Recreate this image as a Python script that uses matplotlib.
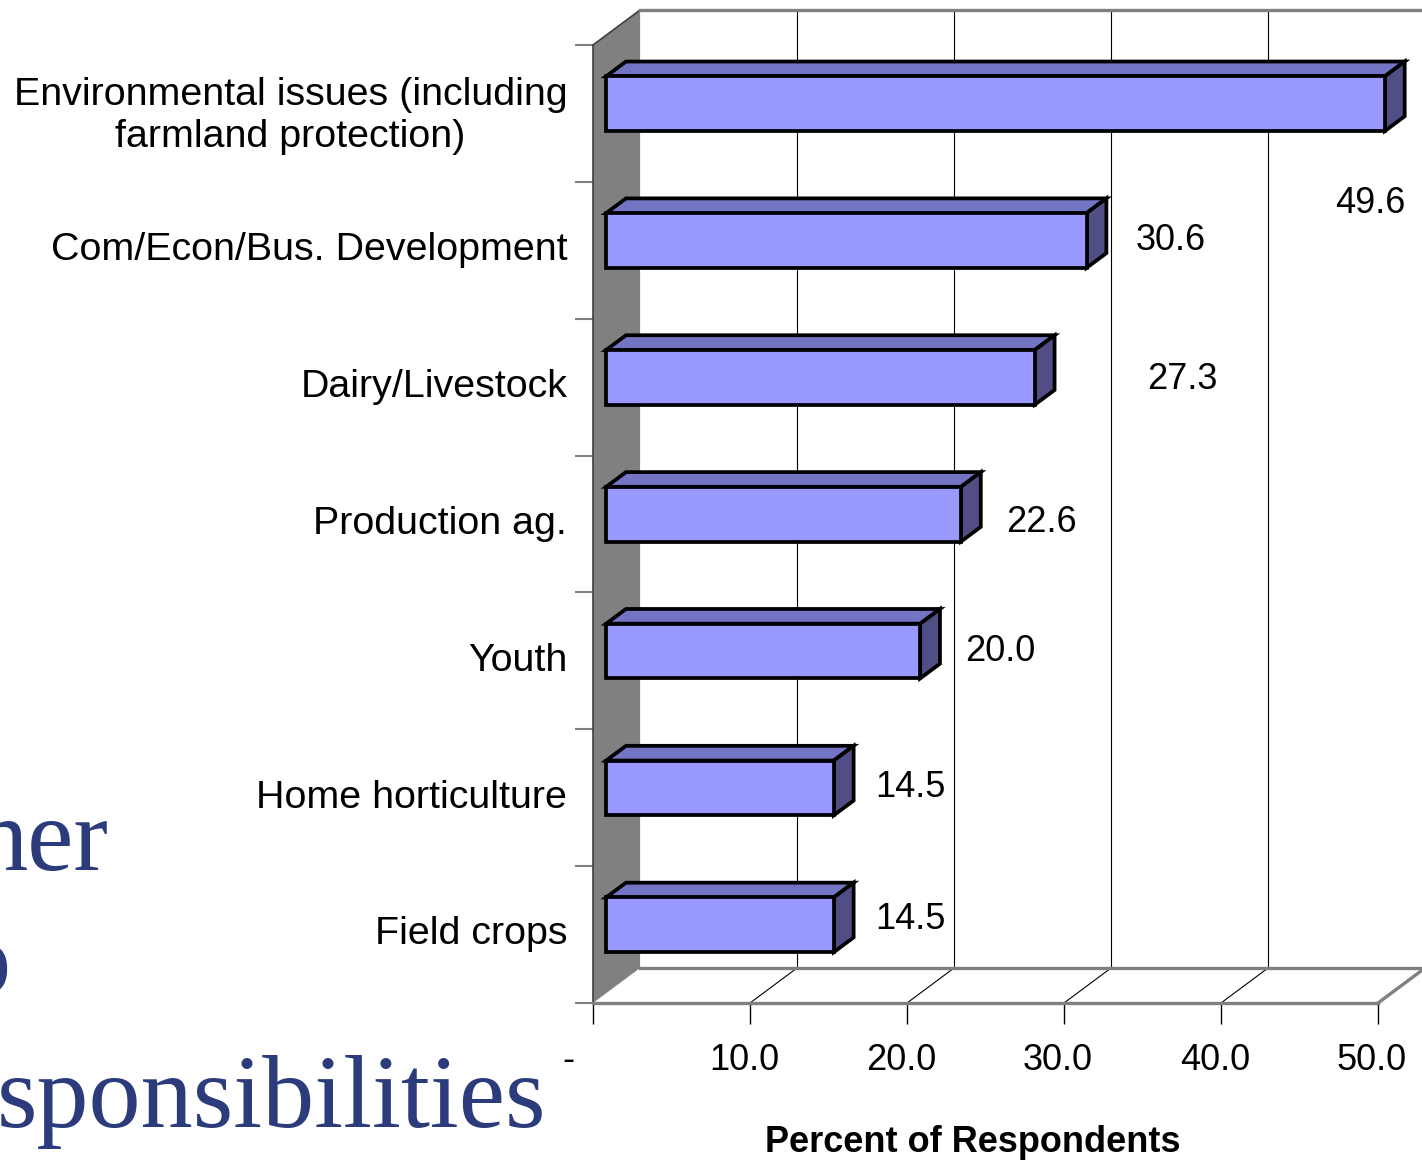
import numpy as np
import matplotlib
matplotlib.use('Agg')
import matplotlib.pyplot as plt
from matplotlib.patches import Polygon

plt.rcParams['font.family'] = ['Liberation Sans', 'DejaVu Sans']

# ── data ─────────────────────────────────────────────────────────────────────
categories = ['Environmental issues (including\nfarmland protection)',
              'Com/Econ/Bus. Development', 'Dairy/Livestock', 'Production ag.',
              'Youth', 'Home horticulture', 'Field crops']
values = [49.6, 30.6, 27.3, 22.6, 20.0, 14.5, 14.5]
xticks = [0, 10, 20, 30, 40, 50]
xticklabels = ['-', '10.0', '20.0', '30.0', '40.0', '50.0']
# value-label nudges in px (labels were hand placed on the slide)
lab_dx = [-15, 84, 148, 80, 80, 77, 77]
lab_dy = [100, 0, 2, 8, 0, 0, -5]

W, H = 1422, 1162
FRONT = '#9999FF'; TOP = '#7474C4'; SIDE = '#4F4F86'; WALL = '#808080'; TITLE = '#2B3B7B'

fig = plt.figure(figsize=(W/100, H/100), dpi=100)
ax = fig.add_axes([593/W, 1-1003/H, 785/W, 958/H])
n = len(categories)
ax.set_xlim(0, 50); ax.set_ylim(n-0.5, -0.5)
DX, DY = 3.0, 0.256        # box depth in data units
d0, d1 = 0.28, 0.70        # bar depth span (fraction of box depth)
bh = 0.40                  # bar thickness
ybot, ytop = n-0.5, -0.5

# left wall
ax.add_patch(Polygon([(0, ytop), (DX, ytop-DY), (DX, ybot-DY), (0, ybot)],
                     closed=True, fc=WALL, ec='none', clip_on=False, zorder=1))
ax.plot([0, DX], [ytop, ytop-DY], color='#404040', lw=1.2, clip_on=False, zorder=2)
# back wall top edge + floor outline
ax.plot([DX, 55], [ytop-DY]*2, color=WALL, lw=2.4, clip_on=False, zorder=2)
ax.plot([DX, 50+DX], [ybot-DY]*2, color=WALL, lw=2.4, clip_on=False, zorder=2)
ax.plot([50, 50+DX], [ybot, ybot-DY], color=WALL, lw=2.4, clip_on=False, zorder=2)
# gridlines on back wall and floor diagonals
for t in xticks[1:-1]:
    ax.plot([t+DX]*2, [ytop-DY, ybot-DY], color='k', lw=0.8, clip_on=False, zorder=1.5)
    ax.plot([t, t+DX], [ybot, ybot-DY], color='k', lw=0.8, clip_on=False, zorder=1.5)

# 3d bars
ex, ey = (d1-d0)*DX, (d1-d0)*DY
x0 = d0*DX
for i, v in enumerate(values):
    yc = i - d0*DY
    t, b = yc-bh/2, yc+bh/2
    kw = dict(closed=True, ec='black', lw=2.7, joinstyle='miter', clip_on=False, zorder=3)
    ax.add_patch(Polygon([(x0, t), (x0+v, t), (x0+v+ex, t-ey), (x0+ex, t-ey)], fc=TOP, **kw))
    ax.add_patch(Polygon([(x0+v, t), (x0+v+ex, t-ey), (x0+v+ex, b-ey), (x0+v, b)], fc=SIDE, **kw))
    ax.add_patch(Polygon([(x0, t), (x0+v, t), (x0+v, b), (x0, b)], fc=FRONT, **kw))
    ax.annotate(f'{v:.1f}', xy=(x0+v, yc), xytext=(lab_dx[i], -lab_dy[i]),
                textcoords='offset pixels', ha='center', va='center', fontsize=26,
                annotation_clip=False)

# axes styling
for s in ('top', 'right'): ax.spines[s].set_visible(False)
ax.spines['left'].set_color('#404040'); ax.spines['left'].set_linewidth(1.2)
ax.spines['bottom'].set_color(WALL); ax.spines['bottom'].set_linewidth(2.4)
ax.spines['left'].set_zorder(2); ax.spines['bottom'].set_zorder(2)
ax.set_xticks(xticks); ax.set_xticklabels([])
ax.tick_params(axis='x', direction='out', length=15, width=1, color='black')
# category labels sit a touch above the category centre on the slide
ax.set_yticks(np.arange(n) - 0.03)
ax.set_yticklabels(categories, fontsize=28.4, multialignment='center', linespacing=1.2)
ax.set_yticks(np.arange(-0.5, n), minor=True)
ax.tick_params(axis='y', which='major', length=0, pad=18.5)
ax.tick_params(axis='y', which='minor', length=13, width=1.5, color=WALL)
ax.set_facecolor('none')

for t, lab in zip(xticks, xticklabels):
    ax.annotate(lab, xy=(t, ybot), xytext=(-25 if lab == '-' else -6, -57),
                textcoords='offset pixels', ha='center', va='center', fontsize=26,
                annotation_clip=False)

fig.text(973/W, 1-1143/H, 'Percent of Respondents', ha='center', va='center',
         fontsize=26, fontweight='bold')

# slide title text bleeding in behind the chart
ser = dict(family='Liberation Serif', fontsize=75, color=TITLE, ha='right', va='baseline')
fig.text(109/W, 1-870/H, 'her', **ser)
fig.text(11/W, 1-993/H, 'o', **ser)
fig.text(546/W, 1-1127/H, 'sponsibilities', **ser)

fig.savefig('out.png', dpi=100)
